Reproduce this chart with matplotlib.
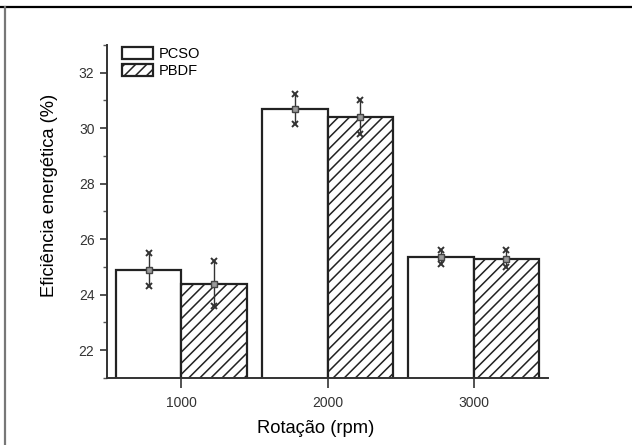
import matplotlib.pyplot as plt
from matplotlib.lines import Line2D
from matplotlib.ticker import MultipleLocator

plt.rcParams['font.family'] = ['Liberation Sans', 'DejaVu Sans']
plt.rcParams['hatch.linewidth'] = 1.1

# Data
rotations = ['1000', '2000', '3000']
pcso = [24.9, 30.7, 25.35]
pcso_err = [0.6, 0.55, 0.25]
pbdf = [24.4, 30.4, 25.3]
pbdf_err = [0.8, 0.6, 0.3]

fig = plt.figure(figsize=(6.32, 4.45), dpi=100)
ax = fig.add_axes([0.1693, 0.1506, 0.6978, 0.7483])

pos = [1, 2, 3]
w = 0.45
x_pcso = [p - w / 2 for p in pos]
x_pbdf = [p + w / 2 for p in pos]

ax.bar(x_pcso, pcso, width=w, bottom=0, color='white', edgecolor='#222222',
       linewidth=1.6, label='PCSO')
ax.bar(x_pbdf, pbdf, width=w, bottom=0, color='white', edgecolor='#222222',
       linewidth=1.6, hatch='///', label='PBDF')

# Error bars: small square at the mean, x-shaped caps
for xs, ys, es in [(x_pcso, pcso, pcso_err), (x_pbdf, pbdf, pbdf_err)]:
    ax.errorbar(xs, ys, yerr=es, fmt='s', ms=4, mfc='#9a9a9a', mec='#444444',
                ecolor='#333333', elinewidth=1.0, capsize=0, zorder=5)
    ax.plot(xs, [y + e for y, e in zip(ys, es)], 'x', ms=4.5, mew=1.4,
            color='#333333', zorder=6)
    ax.plot(xs, [y - e for y, e in zip(ys, es)], 'x', ms=4.5, mew=1.4,
            color='#333333', zorder=6)

ax.set_xlim(0.49, 3.51)
ax.set_ylim(21, 33)
ax.set_xticks(pos)
ax.set_xticklabels(rotations)
ax.yaxis.set_major_locator(MultipleLocator(2))
ax.yaxis.set_minor_locator(MultipleLocator(1))
ax.set_yticks(range(22, 33, 2))

for s in ['top', 'right']:
    ax.spines[s].set_visible(False)
for s in ['left', 'bottom']:
    ax.spines[s].set_linewidth(1.4)
    ax.spines[s].set_color('#333333')

ax.tick_params(axis='x', direction='out', length=7, width=1.2, colors='#333333',
               labelsize=10, pad=6)
ax.tick_params(axis='y', which='major', direction='out', length=5, width=1.2,
               colors='#333333', labelsize=10, pad=4)
ax.tick_params(axis='y', which='minor', direction='out', length=3, width=1.0,
               colors='#555555')

ax.set_xlabel('Rotação (rpm)', fontsize=13.2)
ax.set_ylabel('Eficiência energética (%)', fontsize=13.2)
ax.xaxis.set_label_coords(0.474, -0.125)
ax.yaxis.set_label_coords(-0.112, 0.547)

ax.legend(loc='upper left', bbox_to_anchor=(0.034, 0.994), frameon=False,
          fontsize=10.5, handlelength=2.1, handleheight=0.85, handletextpad=0.45,
          labelspacing=0.23, borderpad=0, borderaxespad=0)

# page frame of the scanned document
fig.add_artist(Line2D([0, 1], [1 - 6.5 / 445, 1 - 6.5 / 445],
                      transform=fig.transFigure, color='black', lw=1.6))
fig.add_artist(Line2D([4.5 / 632, 4.5 / 632], [0, 1 - 6.5 / 445],
                      transform=fig.transFigure, color='#777777', lw=1.6))

fig.savefig('out.png', dpi=100)
